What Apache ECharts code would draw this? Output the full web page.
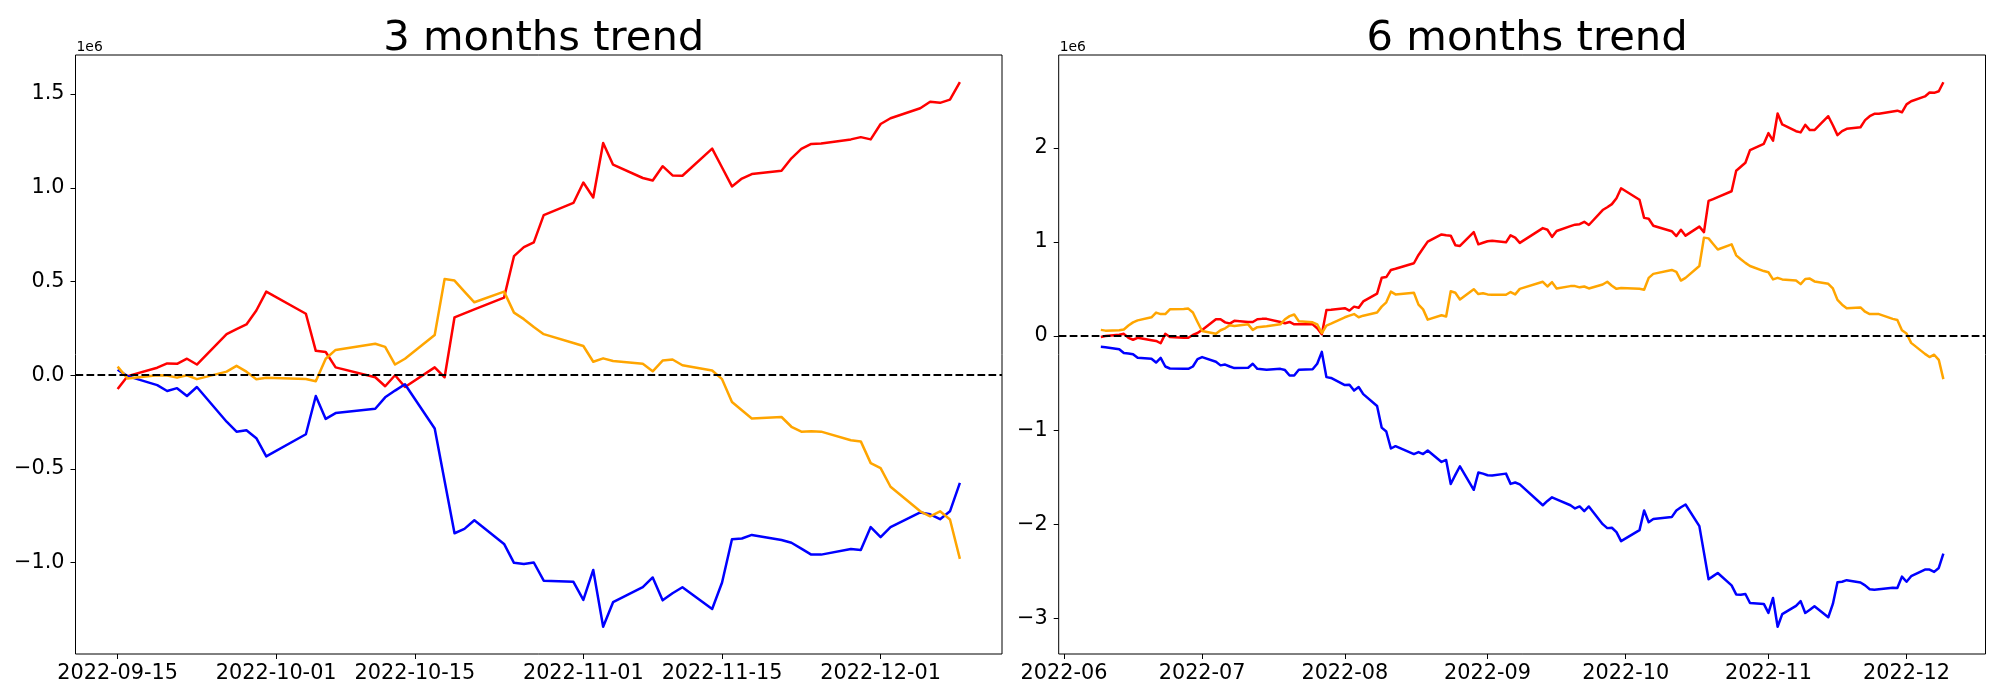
<!DOCTYPE html>
<html><head><meta charset="utf-8">
<script src="https://cdn.jsdelivr.net/npm/echarts@6/dist/echarts.min.js"></script>
<style>html,body{margin:0;padding:0;background:#fff}#c{width:2000px;height:700px}</style>
</head><body><div id="c"></div>
<script>
// ---------- DATA (values in units of 1e6) ----------
const titles = ['3 months trend', '6 months trend'];

const dates3m = ['2022-09-15','2022-09-16','2022-09-19','2022-09-20','2022-09-21','2022-09-22','2022-09-23','2022-09-26','2022-09-27','2022-09-28','2022-09-29','2022-09-30',
'2022-10-04','2022-10-05','2022-10-06','2022-10-07','2022-10-11','2022-10-12','2022-10-13','2022-10-14','2022-10-17','2022-10-18','2022-10-19','2022-10-20','2022-10-21','2022-10-24','2022-10-25','2022-10-26','2022-10-27','2022-10-28','2022-10-31',
'2022-11-01','2022-11-02','2022-11-03','2022-11-04','2022-11-07','2022-11-08','2022-11-09','2022-11-10','2022-11-11','2022-11-14','2022-11-15','2022-11-16','2022-11-17','2022-11-18','2022-11-21','2022-11-22','2022-11-23','2022-11-24','2022-11-25','2022-11-28','2022-11-29','2022-11-30',
'2022-12-01','2022-12-02','2022-12-05','2022-12-06','2022-12-07','2022-12-08','2022-12-09'];

const red3m = [-0.074,-0.005,0.040,0.063,0.061,0.088,0.057,0.219,0.246,0.271,0.345,0.446,
0.328,0.130,0.124,0.042,-0.011,-0.059,0.000,-0.063,0.042,-0.011,0.309,0.330,0.351,0.414,0.635,0.683,0.709,0.854,0.919,
1.028,0.948,1.239,1.123,1.052,1.039,1.115,1.066,1.064,1.209,1.108,1.007,1.049,1.073,1.091,1.157,1.207,1.234,1.236,1.258,1.270,1.258,
1.340,1.371,1.424,1.459,1.453,1.470,1.563];

const blue3m = [0.029,-0.005,-0.053,-0.084,-0.069,-0.111,-0.063,-0.248,-0.301,-0.294,-0.336,-0.433,
-0.315,-0.111,-0.233,-0.202,-0.179,-0.118,-0.082,-0.048,-0.284,-0.564,-0.843,-0.820,-0.774,-0.900,-1.001,-1.007,-0.999,-1.096,-1.102,
-1.199,-1.039,-1.342,-1.211,-1.131,-1.079,-1.201,-1.163,-1.131,-1.247,-1.106,-0.875,-0.871,-0.852,-0.879,-0.894,-0.925,-0.957,-0.957,-0.927,-0.932,-0.810,
-0.864,-0.810,-0.732,-0.742,-0.768,-0.726,-0.574];

const orange3m = [0.046,-0.017,0.000,-0.002,-0.013,0.000,-0.021,0.019,0.050,0.019,-0.021,-0.013,
-0.020,-0.032,0.088,0.135,0.168,0.151,0.057,0.088,0.215,0.513,0.505,0.446,0.389,0.446,0.334,0.299,0.257,0.219,0.172,
0.156,0.072,0.090,0.076,0.061,0.021,0.078,0.084,0.053,0.025,-0.021,-0.143,-0.187,-0.231,-0.223,-0.275,-0.301,-0.299,-0.301,-0.347,-0.353,-0.469,
-0.496,-0.595,-0.726,-0.753,-0.726,-0.770,-0.980];

const dates6m = ['2022-06-09','2022-06-10','2022-06-13','2022-06-14','2022-06-15','2022-06-16','2022-06-17','2022-06-20','2022-06-21','2022-06-22','2022-06-23','2022-06-24','2022-06-27','2022-06-28','2022-06-29','2022-06-30',
'2022-07-01','2022-07-04','2022-07-05','2022-07-06','2022-07-07','2022-07-08','2022-07-11','2022-07-12','2022-07-13','2022-07-14','2022-07-15','2022-07-18','2022-07-19','2022-07-20','2022-07-21','2022-07-22','2022-07-25','2022-07-26','2022-07-27','2022-07-28','2022-07-29',
'2022-08-01','2022-08-02','2022-08-03','2022-08-04','2022-08-05','2022-08-08','2022-08-09','2022-08-10','2022-08-11','2022-08-12','2022-08-16','2022-08-17','2022-08-18','2022-08-19','2022-08-22','2022-08-23','2022-08-24','2022-08-25','2022-08-26','2022-08-29','2022-08-30','2022-08-31',
'2022-09-01','2022-09-02','2022-09-05','2022-09-06','2022-09-07','2022-09-08','2022-09-13','2022-09-14','2022-09-15','2022-09-16','2022-09-19','2022-09-20','2022-09-21','2022-09-22','2022-09-23','2022-09-26','2022-09-27','2022-09-28','2022-09-29','2022-09-30',
'2022-10-04','2022-10-05','2022-10-06','2022-10-07','2022-10-11','2022-10-12','2022-10-13','2022-10-14','2022-10-17','2022-10-18','2022-10-19','2022-10-20','2022-10-21','2022-10-24','2022-10-25','2022-10-26','2022-10-27','2022-10-28','2022-10-31',
'2022-11-01','2022-11-02','2022-11-03','2022-11-04','2022-11-07','2022-11-08','2022-11-09','2022-11-10','2022-11-11','2022-11-14','2022-11-15','2022-11-16','2022-11-17','2022-11-18','2022-11-21','2022-11-22','2022-11-23','2022-11-24','2022-11-25','2022-11-28','2022-11-29','2022-11-30',
'2022-12-01','2022-12-02','2022-12-05','2022-12-06','2022-12-07','2022-12-08','2022-12-09'];

const red6m = [-0.010,0.000,0.015,0.024,-0.018,-0.039,-0.018,-0.043,-0.051,-0.076,0.024,-0.009,-0.018,-0.018,0.012,0.033,
0.066,0.179,0.179,0.146,0.133,0.162,0.150,0.150,0.179,0.183,0.183,0.150,0.137,0.150,0.125,0.125,0.125,0.083,0.020,0.276,0.280,
0.296,0.271,0.313,0.301,0.368,0.451,0.619,0.627,0.702,0.715,0.774,0.862,0.933,1.004,1.080,1.071,1.067,0.966,0.958,1.105,0.975,0.992,
1.008,1.013,0.996,1.071,1.046,0.990,1.147,1.130,1.054,1.117,1.168,1.184,1.189,1.214,1.180,1.339,1.369,1.402,1.465,1.570,
1.448,1.256,1.247,1.172,1.114,1.063,1.130,1.067,1.163,1.105,1.436,1.456,1.477,1.539,1.757,1.799,1.841,1.975,2.043,
2.156,2.076,2.365,2.248,2.177,2.164,2.244,2.189,2.189,2.336,2.240,2.135,2.177,2.202,2.219,2.294,2.336,2.361,2.361,2.386,2.395,2.378,
2.462,2.495,2.546,2.588,2.584,2.601,2.697];

const blue6m = [-0.114,-0.118,-0.139,-0.180,-0.184,-0.193,-0.231,-0.240,-0.281,-0.231,-0.323,-0.344,-0.348,-0.348,-0.323,-0.244,
-0.223,-0.273,-0.311,-0.302,-0.323,-0.340,-0.336,-0.294,-0.348,-0.352,-0.357,-0.348,-0.361,-0.419,-0.419,-0.357,-0.352,-0.293,-0.168,-0.436,-0.444,
-0.520,-0.516,-0.579,-0.541,-0.616,-0.742,-0.972,-1.014,-1.194,-1.169,-1.253,-1.232,-1.253,-1.215,-1.337,-1.316,-1.571,-1.475,-1.383,-1.633,-1.449,-1.461,
-1.478,-1.482,-1.461,-1.570,-1.555,-1.575,-1.797,-1.751,-1.713,-1.734,-1.797,-1.831,-1.810,-1.860,-1.810,-1.998,-2.040,-2.036,-2.082,-2.178,
-2.061,-1.852,-1.977,-1.944,-1.923,-1.852,-1.818,-1.789,-2.019,-2.300,-2.584,-2.550,-2.517,-2.648,-2.744,-2.748,-2.740,-2.836,-2.845,
-2.941,-2.782,-3.088,-2.954,-2.866,-2.816,-2.941,-2.908,-2.870,-2.987,-2.845,-2.614,-2.610,-2.593,-2.618,-2.648,-2.689,-2.694,-2.689,-2.673,-2.677,-2.555,
-2.610,-2.551,-2.480,-2.480,-2.505,-2.463,-2.312];

const orange6m = [0.066,0.058,0.062,0.070,0.112,0.146,0.167,0.200,0.250,0.234,0.234,0.284,0.288,0.292,0.250,0.150,
0.054,0.024,0.062,0.083,0.116,0.108,0.125,0.066,0.095,0.100,0.104,0.125,0.179,0.212,0.229,0.158,0.146,0.125,0.033,0.112,0.133,
0.200,0.217,0.234,0.200,0.217,0.250,0.313,0.359,0.472,0.443,0.460,0.334,0.284,0.175,0.221,0.209,0.477,0.460,0.389,0.498,0.447,0.456,
0.443,0.439,0.439,0.468,0.443,0.502,0.577,0.527,0.573,0.506,0.531,0.531,0.518,0.527,0.506,0.548,0.577,0.535,0.502,0.510,
0.502,0.493,0.619,0.661,0.703,0.682,0.590,0.619,0.744,1.046,1.038,0.979,0.920,0.975,0.858,0.816,0.778,0.745,0.691,
0.678,0.602,0.619,0.602,0.590,0.552,0.607,0.611,0.581,0.556,0.506,0.385,0.334,0.296,0.305,0.259,0.234,0.234,0.234,0.183,0.171,0.062,
0.028,-0.072,-0.189,-0.223,-0.198,-0.252,-0.457];

const xTicks3m = ['2022-09-15','2022-10-01','2022-10-15','2022-11-01','2022-11-15','2022-12-01'];
const xTicks6m = ['2022-06-01','2022-07-01','2022-08-01','2022-09-01','2022-10-01','2022-11-01','2022-12-01'];
const yTicks3m = [-1.0,-0.5,0.0,0.5,1.0,1.5];
const yTicks6m = [-3,-2,-1,0,1,2];
const offsetText = '1e6';

// ---------- helpers ----------
function ts(s){const p=s.split('-');return Date.UTC(+p[0],+p[1]-1,+p[2]);}
function pad2(n){return String(n).padStart(2,'0');}
function fmtDay(v){const d=new Date(v);return d.getUTCFullYear()+'-'+pad2(d.getUTCMonth()+1)+'-'+pad2(d.getUTCDate());}
function fmtMonth(v){const d=new Date(v);return d.getUTCFullYear()+'-'+pad2(d.getUTCMonth()+1);}
function minus(s){return s.replace('-','\u2212');}
function pairs(dates, vals){return dates.map((d,i)=>[ts(d), vals[i]]);}
function xRange(dates){const a=ts(dates[0]), b=ts(dates[dates.length-1]);const m=(b-a)*0.05;return [a-m,b+m];}
function yRange(arrs){let lo=Infinity,hi=-Infinity;arrs.forEach(a=>a.forEach(v=>{if(v<lo)lo=v;if(v>hi)hi=v;}));const m=(hi-lo)*0.05;return [lo-m,hi+m];}

const FONT='DejaVu Sans';
const grids=[{left:75.5,top:55,width:926.5,height:599},{left:1058.7,top:55,width:926.8,height:599}];
const xr=[xRange(dates3m),xRange(dates6m)];
const yr=[yRange([red3m,blue3m,orange3m]),yRange([red6m,blue6m,orange6m])];
const xt=[xTicks3m.map(ts),xTicks6m.map(ts)];
const yt=[yTicks3m,yTicks6m];
const xf=[fmtDay,fmtMonth];
const yf=[v=>minus(v.toFixed(1)),v=>minus(String(Math.round(v)))];

const chart=echarts.init(document.getElementById('c'),null,{renderer:'canvas'});
const option={
  animation:false,
  backgroundColor:'#fff',
  title:titles.map((t,i)=>({text:t,left:grids[i].left+grids[i].width/2,top:13,textAlign:'center',
    textStyle:{fontSize:41.7,fontWeight:'normal',color:'#000',fontFamily:FONT}})),
  graphic:grids.map(g=>({type:'text',left:g.left+1,top:40.6,style:{text:offsetText,font:'13.9px "DejaVu Sans"',fill:'#000'}})),
  grid:grids.map(g=>Object.assign({show:true,borderColor:'#000',borderWidth:1,backgroundColor:'transparent',containLabel:false},g)),
  xAxis:[0,1].map(i=>({type:'value',gridIndex:i,min:xr[i][0],max:xr[i][1],position:'bottom',
    axisLine:{show:false,onZero:false},splitLine:{show:false},
    axisTick:{show:true,length:5,lineStyle:{color:'#000',width:1},customValues:xt[i]},
    axisLabel:{show:true,customValues:xt[i],formatter:xf[i],color:'#000',fontSize:20.8,fontFamily:FONT,margin:9}})),
  yAxis:[0,1].map(i=>({type:'value',gridIndex:i,min:yr[i][0],max:yr[i][1],position:'left',
    axisLine:{show:false,onZero:false},splitLine:{show:false},
    axisTick:{show:true,length:5,lineStyle:{color:'#000',width:1},customValues:yt[i]},
    axisLabel:{show:true,customValues:yt[i],formatter:yf[i],color:'#000',fontSize:20.8,fontFamily:FONT,margin:11}})),
  series:[]
};
const sets=[[red3m,blue3m,orange3m,dates3m],[red6m,blue6m,orange6m,dates6m]];
const colors=['#ff0000','#0000ff','#ffa500'];
sets.forEach((s,i)=>{
  [0,1,2].forEach(k=>{
    option.series.push({type:'line',xAxisIndex:i,yAxisIndex:i,data:pairs(s[3],s[k]),
      showSymbol:false,symbol:'none',silent:true,z:2+k,
      lineStyle:{color:colors[k],width:2.5,join:'round',cap:'butt'},itemStyle:{color:colors[k]}});
  });
  option.series.push({type:'line',xAxisIndex:i,yAxisIndex:i,data:[],z:10,silent:true,
    markLine:{silent:true,symbol:['none','none'],label:{show:false},animation:false,
      lineStyle:{color:'#000',width:2.1,type:[7.7,3.3]},data:[{yAxis:0}]}});
});
chart.setOption(option);
</script></body></html>
